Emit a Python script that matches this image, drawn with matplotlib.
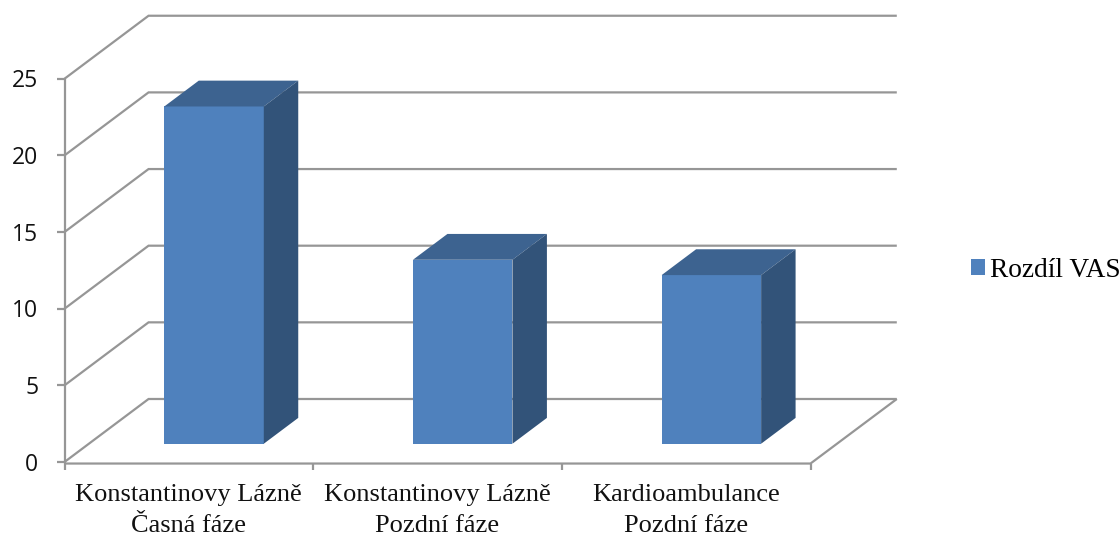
import matplotlib
matplotlib.use('Agg')
from matplotlib import pyplot as plt
from matplotlib.patches import Patch

categories = ['Konstantinovy Lázně\nČasná fáze',
              'Konstantinovy Lázně\nPozdní fáze',
              'Kardioambulance\nPozdní fáze']
values = [22, 12, 11]
y_ticks = [0, 5, 10, 15, 20, 25]
series_name = 'Rozdíl VAS'

FRONT = '#4f81bd'
TOP = '#3d6390'
SIDE = '#325379'
LINE = '#969696'

# depth of the box in data units (x in categories, y in value units)
wall_dx = 0.338
wall_dx_right = 0.347
wall_dy = 4.11
bar_width = 0.4
bar_start = 0.3
bar_depth = 0.41


def draw_box(ax, x, value):
    left = x + 0.5 - bar_width / 2 + bar_start * wall_dx
    base = 0.29 * wall_dy
    dx = bar_depth * wall_dx
    dy = bar_depth * wall_dy
    ax.bar(left, value, bar_width, bottom=base, align='edge', color=FRONT, zorder=5)
    right = left + bar_width
    top = base + value
    ax.fill([left, left + dx, right + dx, right], [top, top + dy, top + dy, top],
            color=TOP, lw=0, zorder=5)
    ax.fill([right, right + dx, right + dx, right],
            [base, base + dy, top + dy, top], color=SIDE, lw=0, zorder=5)


fig = plt.figure(figsize=(11.2, 5.36), dpi=100)
ax = fig.add_axes([0, 0, 1, 1])
# axes fill the figure, limits set so the plot floor sits in the right spot
ax.set_xlim(-64.5 / 248.67, (1120 - 64.5) / 248.67)
ax.set_ylim(-(536 - 462) / 15.33, 462 / 15.33)
ax.axis('off')

n = len(categories)
line_kw = dict(color=LINE, lw=1.6, solid_capstyle='butt', solid_joinstyle='miter', zorder=1)

# side wall and back wall gridlines
for v in y_ticks:
    ax.plot([0, wall_dx, n + wall_dx_right], [v, v + wall_dy, v + wall_dy], **line_kw)
    ax.plot([-0.03, 0], [v, v], **line_kw)
    ax.text(-0.105, v - 0.17, str(v), ha='right', va='center', family='Open Sans',
            fontsize=16.5, color='#111111')

# value axis and floor edges
ax.plot([0, 0], [-0.1, y_ticks[-1]], **line_kw)
ax.plot([0, n, n + wall_dx_right], [-0.1, -0.1, wall_dy], **line_kw)

for i in range(n + 1):
    ax.plot([i, i], [-0.1, -0.5], **line_kw)

for i, (cat, val) in enumerate(zip(categories, values)):
    draw_box(ax, i, val)
    # each label line is its own text, the gap is wider than normal line spacing
    for row, part in enumerate(cat.split('\n')):
        ax.text(i + 0.5, -2.55 - row * 2.03, part, ha='center', va='baseline',
                family='Liberation Serif', fontsize=19, color='#111111')

handle = Patch(facecolor=FRONT, label=series_name)
ax.legend(handles=[handle], loc='center left', bbox_to_anchor=(0.867, 0.496),
          frameon=False, handlelength=0.51, handleheight=0.51, handletextpad=0.18,
          borderpad=0, borderaxespad=0, prop={'family': 'Liberation Serif', 'size': 19.7})

fig.savefig('out.png', dpi=100)
